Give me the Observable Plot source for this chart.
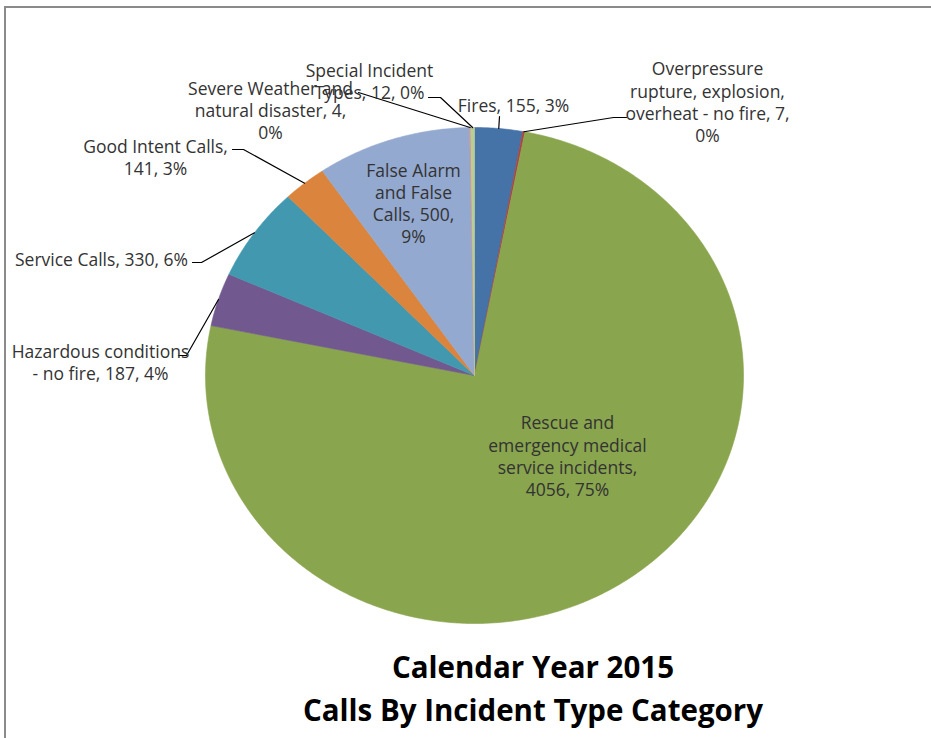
<!DOCTYPE html>
<html><head><meta charset="utf-8">
<script src="https://cdn.jsdelivr.net/npm/d3@7"></script>
<script src="https://cdn.jsdelivr.net/npm/@observablehq/plot@0.6"></script>
<style>
html,body{margin:0;padding:0;background:#fff;overflow:hidden;width:931px;height:738px;}
#frame{position:absolute;left:4px;top:6px;width:940px;height:740px;border-top:2px solid #8a8a8a;border-left:2px solid #8a8a8a;}
#chart{position:absolute;left:0;top:0;}
#title{position:absolute;left:233px;top:645px;width:600px;text-align:center;font-family:"Open Sans",Lato,sans-serif;font-weight:bold;font-size:29.5px;line-height:43px;color:#000;}
</style>
</head><body>
<div id="frame"></div>
<div id="chart"></div>
<div id="title">Calendar Year 2015<br>Calls By Incident Type Category</div>
<script>
// ---- data ----
const categories = [
  "Fires",
  "Overpressure rupture, explosion, overheat - no fire",
  "Rescue and emergency medical service incidents",
  "Hazardous conditions - no fire",
  "Service Calls",
  "Good Intent Calls",
  "False Alarm and False Calls",
  "Severe Weather and natural disaster",
  "Special Incident Types"
];
const counts = [155, 7, 4056, 187, 330, 141, 500, 4, 12];
const percents = ["3%", "0%", "75%", "4%", "6%", "3%", "9%", "0%", "0%"];
const labelTexts = [
  "Fires, 155, 3%",
  "Overpressure\nrupture, explosion,\noverheat - no fire, 7,\n0%",
  "Rescue and\nemergency medical\nservice incidents,\n4056, 75%",
  "Hazardous conditions\n- no fire, 187, 4%",
  "Service Calls, 330, 6%",
  "Good Intent Calls,\n141, 3%",
  "False Alarm\nand False\nCalls, 500,\n9%",
  "Severe Weather and\nnatural disaster, 4,\n0%",
  "Special Incident\nTypes, 12, 0%"
];
const colors = ["#4572A7","#AA4643","#89A54E","#71588F","#4198AF","#DB843D","#93A9CF","#D19392","#B9CD96"];

// ---- layout (pixel positions of labels and leader elbows) ----
const labelPos = [[513,104],[707,101],[567,455],[100,361],[101,258],[155,156],[413,202.5],[270,109.5],[369,80.5]];
const leaderElbows = [
  [[499,116]],
  [[626,117],[613,117]],
  null,
  [[178,355],[186,355]],
  [[192,262],[201,262]],
  [[232,149],[243,149]],
  null,
  [[358,92]],
  [[428,97],[440,97]]
];

const W = 931, H = 640, mL = 205, mR = 188, mT = 127, mB = 17;
const cx = mL + (W - mL - mR) / 2, cy = mT + (H - mT - mB) / 2;
const rx = (W - mL - mR) / 2, ry = (H - mT - mB) / 2;
const ux = px => (px - cx) / rx;
const uy = py => (cy - py) / ry;

const rows = categories.map((name, i) => ({name, count: counts[i], pct: percents[i], label: labelTexts[i], i}));
const arcs = d3.pie().sort(null).value(d => d.count)(rows);

const slicePts = [];
for (const a of arcs) {
  const n = Math.max(2, Math.ceil((a.endAngle - a.startAngle) / (Math.PI / 360)));
  slicePts.push({name: a.data.name, x: 0, y: 0});
  for (let k = 0; k <= n; k++) {
    const t = a.startAngle + (a.endAngle - a.startAngle) * k / n;
    slicePts.push({name: a.data.name, x: Math.sin(t), y: Math.cos(t)});
  }
  slicePts.push({name: a.data.name, x: 0, y: 0});
}

const leaderPts = [];
arcs.forEach((a, i) => {
  const el = leaderElbows[i];
  if (!el) return;
  el.forEach(([px, py]) => leaderPts.push({id: i, x: ux(px), y: uy(py)}));
  const m = (a.startAngle + a.endAngle) / 2;
  leaderPts.push({id: i, x: Math.sin(m), y: Math.cos(m)});
});

const labels = rows.map((r, i) => ({text: r.label, x: ux(labelPos[i][0]), y: uy(labelPos[i][1])}));

const chart = Plot.plot({
  width: W, height: H,
  marginLeft: mL, marginRight: mR, marginTop: mT, marginBottom: mB,
  x: {domain: [-1, 1], axis: null},
  y: {domain: [-1, 1], axis: null},
  color: {domain: categories, range: colors},
  style: {fontFamily: "'Open Sans', Lato, sans-serif", background: "transparent"},
  marks: [
    Plot.line(slicePts, {x: "x", y: "y", z: "name", fill: "name", stroke: "name", strokeWidth: 0.6, curve: "linear"}),
    Plot.line(leaderPts, {x: "x", y: "y", z: "id", stroke: "#000", strokeWidth: 1.2, curve: "linear"}),
    Plot.text(labels, {x: "x", y: "y", text: "text", textAnchor: "middle", lineAnchor: "middle", fontSize: 17.5, lineHeight: 1.27, fill: "#333"})
  ]
});
document.getElementById("chart").appendChild(chart);
</script>
</body></html>
